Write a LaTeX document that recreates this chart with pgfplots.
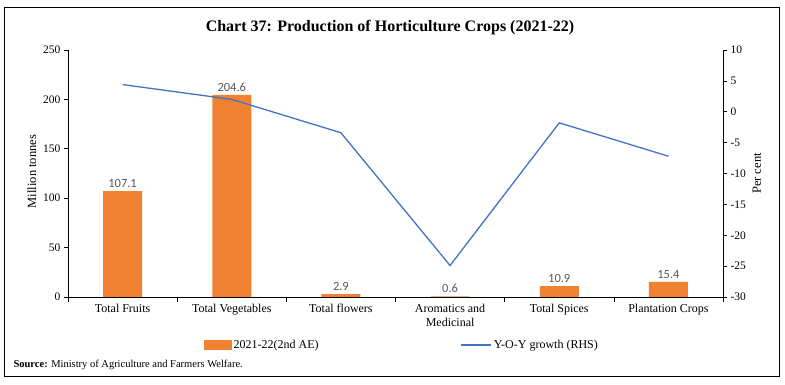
\documentclass[border=0pt]{standalone}
\usepackage{fontspec}
\setmainfont{Liberation Serif}
\newfontfamily\lblfont{Carlito}
\usepackage{pgfplots}
\pgfplotsset{compat=1.18}
\definecolor{barorange}{RGB}{240,130,50}
\definecolor{lineblue}{RGB}{68,114,196}
\begin{document}
\begin{tikzpicture}[x=1pt,y=1pt]
\path (0,0) rectangle (785,385);
\draw[line width=0.8pt] (4,9) rectangle (779,378);
\node[font=\fontsize{16}{18}\selectfont\bfseries] at (390,357) {Chart 37: Production of Horticulture Crops (2021-22)};
\begin{axis}[
 at={(68pt,88pt)}, anchor=south west, scale only axis, width=655pt, height=247pt,
 xmin=-0.5, xmax=5.5, ymin=0, ymax=250, ytick={0,50,...,250},
 axis x line*=bottom, axis y line*=left, axis line style={-, black, line width=0.6pt},
 xtick={0,...,5},
 xticklabels={Total Fruits, Total Vegetables, Total flowers, {Aromatics and\\Medicinal}, Total Spices, Plantation Crops},
 xticklabel style={align=center, font=\fontsize{12}{14}\selectfont},
 yticklabel style={font=\fontsize{11.5}{13}\selectfont},
 /pgf/number format/assume math mode=true,
 major x tick style={draw=none},
 minor xtick={-0.5,0.5,...,5.5}, minor tick length=5pt,
 tick align=outside, major tick length=4pt,
 tick style={black, line width=0.6pt},
 ylabel={Million tonnes}, ylabel style={font=\fontsize{12.5}{14}\selectfont, xshift=2pt},
]
\addplot[ybar, bar width=39pt, fill=barorange, draw=none,
 nodes near coords, nodes near coords style={font=\lblfont\fontsize{12.5}{14}\selectfont, text=black!65},
 point meta=explicit symbolic]
 coordinates {(0,107.1) [107.1] (1,204.6) [204.6] (2,2.9) [2.9] (3,0.6) [0.6] (4,10.9) [10.9] (5,15.4) [15.4]};
\end{axis}
\begin{axis}[
 at={(68pt,88pt)}, anchor=south west, scale only axis, width=655pt, height=247pt,
 xmin=-0.5, xmax=5.5, ymin=-30, ymax=10, ytick={-30,-25,...,10},
 axis y line*=right, axis x line=none, axis line style={-, black, line width=0.6pt},
 tick align=outside, major tick length=4pt, tick style={black, line width=0.6pt},
 yticklabel style={font=\fontsize{11.5}{13}\selectfont},
 /pgf/number format/assume math mode=true,
 ylabel={Per cent}, ylabel style={font=\fontsize{12.5}{14}\selectfont},
 legend style={at={(0.51,-0.194)}, anchor=center, draw=none, fill=none,
   font=\fontsize{12}{14}\selectfont, legend columns=2,
   /tikz/every even column/.append style={column sep=140pt}},
]
\addlegendimage{legend image code/.code={\fill[barorange] (0pt,-4.5pt) rectangle (27pt,4.5pt);}}
\addlegendentry{2021-22(2nd AE)}
\addplot[lineblue, line width=1.3pt, mark=none,
 legend image code/.code={\draw[lineblue, line width=1.3pt] (0pt,0pt) -- (30pt,0pt);}]
 coordinates {(0,4.4) (1,2.0) (2,-3.4) (3,-24.9) (4,-1.8) (5,-7.2)};
\addlegendentry{Y-O-Y growth (RHS)}
\end{axis}
\node[anchor=west, font=\fontsize{10.5}{12}\selectfont] at (10,20) {\textbf{Source:} Ministry of Agriculture and Farmers Welfare.};
\end{tikzpicture}
\end{document}
